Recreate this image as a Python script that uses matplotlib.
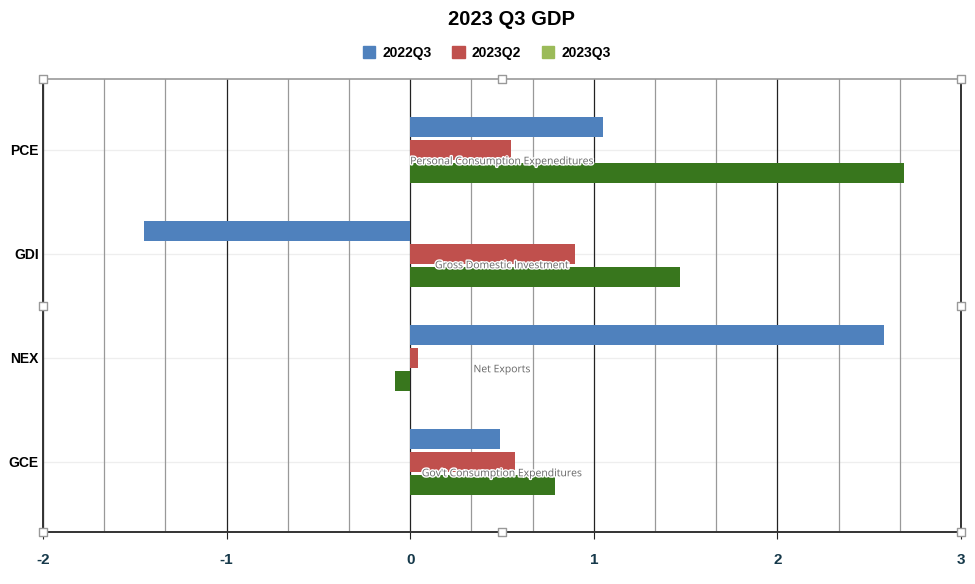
import numpy as np
import matplotlib.pyplot as plt
import matplotlib.patheffects as pe
from matplotlib.patches import Patch
from matplotlib.ticker import MultipleLocator

plt.rcParams["axes.unicode_minus"] = False

categories = ["PCE", "GDI", "NEX", "GCE"]
descriptions = ["Personal Consumption Expeneditures", "Gross Domestic Investment",
                "Net Exports", "Gov't Consumption Expenditures"]
series = ["2022Q3", "2023Q2", "2023Q3"]
v_2022q3 = [1.05, -1.45, 2.58, 0.49]
v_2023q2 = [0.55, 0.90, 0.04, 0.57]
v_2023q3 = [2.69, 1.47, -0.08, 0.79]

bar_colors = ["#4F81BD", "#C0504D", "#38761D"]
legend_colors = ["#4F81BD", "#C0504D", "#9BBB59"]

fig = plt.figure(figsize=(9.75, 5.84), dpi=100)
ax = fig.add_axes([0.0441, 0.0890, 0.9415, 0.7757])

y = np.arange(len(categories))
h = 0.19
off = 0.221
for i, vals in enumerate([v_2022q3, v_2023q2, v_2023q3]):
    ax.barh(y + (i - 1) * off, vals, height=h, color=bar_colors[i], zorder=3)

ax.set_xlim(-2, 3)
ax.set_ylim(3.675, -0.68)

# grid: thirds in gray, integers dark
ax.xaxis.set_minor_locator(MultipleLocator(1 / 3))
ax.xaxis.set_major_locator(MultipleLocator(1))
ax.grid(axis="x", which="minor", color="#999999", lw=0.9, zorder=1)
ax.grid(axis="x", which="major", color="#222222", lw=0.9, zorder=1)
for yy in y:
    ax.axhline(yy, color="#eeeeee", lw=0.9, zorder=1)

ax.set_yticks(y)
ax.set_yticklabels(categories, fontweight="bold", fontsize=10, color="black",
                   family="Liberation Sans")
ax.tick_params(axis="y", length=0, pad=3)
ax.tick_params(axis="x", which="major", length=5, color="#222222", pad=10,
               labelsize=11, labelcolor="#16394A")
ax.tick_params(axis="x", which="minor", length=0)
for lbl in ax.get_xticklabels():
    lbl.set_fontweight("bold")
    lbl.set_family("Liberation Sans")

for s in ["left", "right", "bottom"]:
    ax.spines[s].set_color("#333333")
    ax.spines[s].set_linewidth(1.4)
ax.spines["top"].set_color("#999999")
ax.spines["top"].set_linewidth(1.2)

for yy, txt in zip(y, descriptions):
    ax.text(0.5, yy + 0.115, txt, ha="center", va="center", fontsize=7.5,
            color="#666666", family="Open Sans", zorder=5,
            path_effects=[pe.withStroke(linewidth=2, foreground="white")])

# selection handles around the plot area
hx = [0, 0.5, 1, 0, 1, 0, 0.5, 1]
hy = [1, 1, 1, 0.5, 0.5, 0, 0, 0]
ax.scatter(hx, hy, s=40, marker="s", facecolor="white", edgecolor="#999999",
           lw=1, transform=ax.transAxes, clip_on=False, zorder=10)

fig.suptitle("2023 Q3 GDP", x=0.525, y=0.983, fontsize=14.5, fontweight="bold",
             family="Liberation Sans")
handles = [Patch(color=c, label=s) for c, s in zip(legend_colors, series)]
fig.legend(handles=handles, loc="center", bbox_to_anchor=(0.499, 0.91), ncol=3,
           frameon=False, handlelength=0.9, handleheight=0.9, columnspacing=1.5,
           handletextpad=0.5, prop=dict(weight="bold", size=10, family="Liberation Sans"))

fig.savefig("out.png", dpi=100)
